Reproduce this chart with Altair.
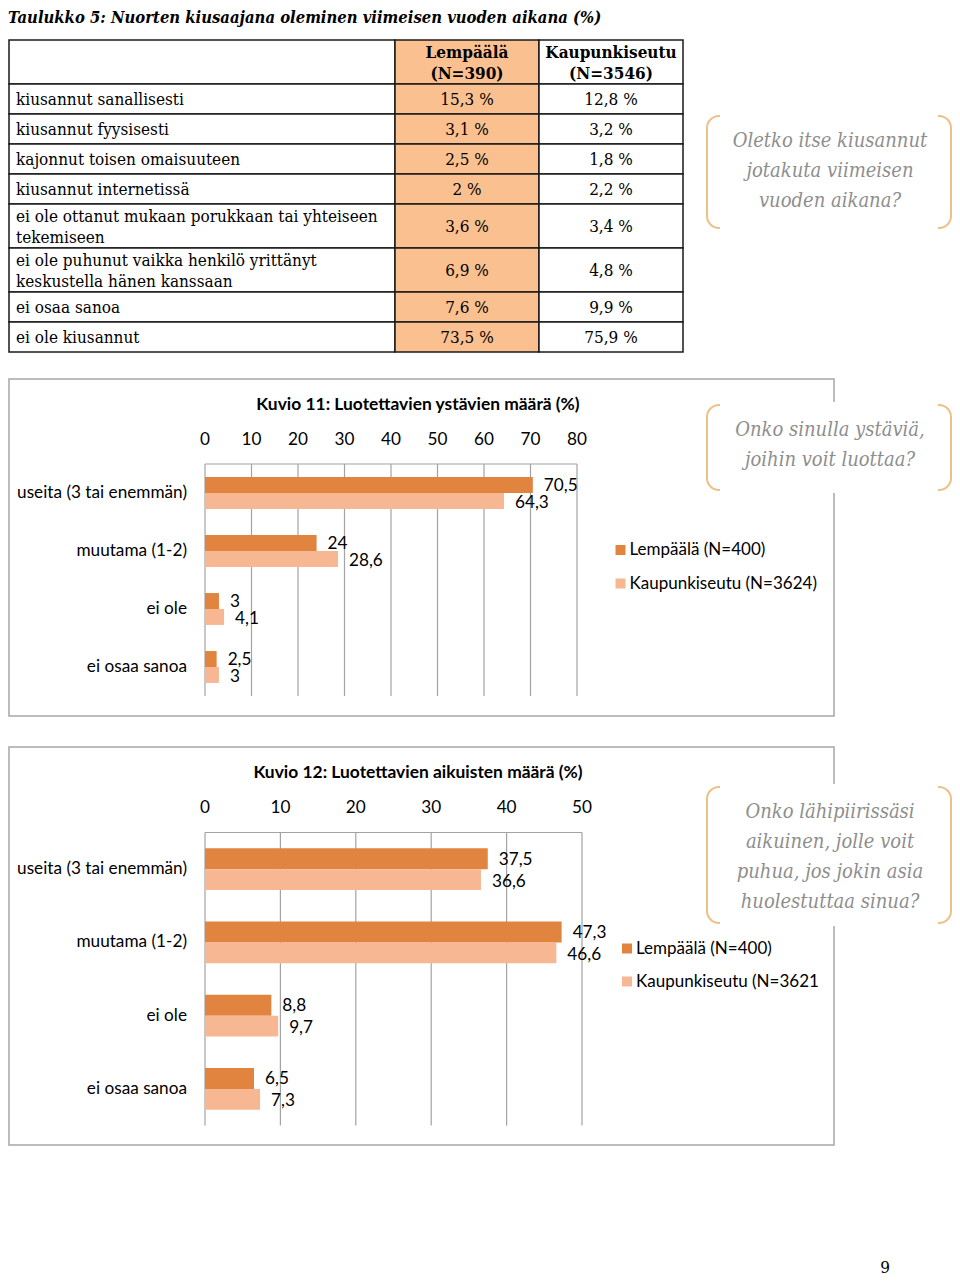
import altair as alt
import pandas as pd

# ---------------- data ----------------
title_text = "Taulukko 5: Nuorten kiusaajana oleminen viimeisen vuoden aikana (%)"

table_header = ["", "Lempäälä\n(N=390)", "Kaupunkiseutu\n(N=3546)"]
table_items = [
    "kiusannut sanallisesti",
    "kiusannut fyysisesti",
    "kajonnut toisen omaisuuteen",
    "kiusannut internetissä",
    "ei ole ottanut mukaan porukkaan tai yhteiseen\ntekemiseen",
    "ei ole puhunut vaikka henkilö yrittänyt\nkeskustella hänen kanssaan",
    "ei osaa sanoa",
    "ei ole kiusannut",
]
table_lempaala = [15.3, 3.1, 2.5, 2, 3.6, 6.9, 7.6, 73.5]
table_kaupunki = [12.8, 3.2, 1.8, 2.2, 3.4, 4.8, 9.9, 75.9]

callout1 = "Oletko itse kiusannut\njotakuta viimeisen\nvuoden aikana?"
callout2 = "Onko sinulla ystäviä,\njoihin voit luottaa?"
callout3 = "Onko lähipiirissäsi\naikuinen, jolle voit\npuhua, jos jokin asia\nhuolestuttaa sinua?"

categories = ["useita (3 tai enemmän)", "muutama (1-2)", "ei ole", "ei osaa sanoa"]

c1_title = "Kuvio 11: Luotettavien ystävien määrä (%)"
c1_series = ["Lempäälä (N=400)", "Kaupunkiseutu (N=3624)"]
c1_lempaala = [70.5, 24, 3, 2.5]
c1_kaupunki = [64.3, 28.6, 4.1, 3]
c1_ticks = [0, 10, 20, 30, 40, 50, 60, 70, 80]

c2_title = "Kuvio 12: Luotettavien aikuisten määrä (%)"
c2_series = ["Lempäälä (N=400)", "Kaupunkiseutu (N=3621"]
c2_lempaala = [37.5, 47.3, 8.8, 6.5]
c2_kaupunki = [36.6, 46.6, 9.7, 7.3]
c2_ticks = [0, 10, 20, 30, 40, 50]

page_number = "9"

# ---------------- layout / style ----------------
M = 8
W, H = 944, 1269


def P(v):
    return v - M


def fmt(v):
    return f"{v:g}".replace(".", ",")


SERIF = "DejaVu Serif Condensed, DejaVu Serif, serif"
SANS = "Lato, sans-serif"
DARK = "#E0843F"
LIGHT = "#F8B793"
TABLE_FILL = "#FAC08F"
BRACKET = "#EFBF88"
CALLOUT_TXT = "#8E8E8E"
FRAME = "#A6A6A6"
GRID = "#A3A3A3"
TBL_LH = 21
SANS_FS = 17.2

one = pd.DataFrame({"k": [0]})
layers = []

# title
layers.append(
    alt.Chart(one).mark_text(
        text=title_text, font=SERIF, fontSize=16.5, fontWeight="bold",
        fontStyle="italic", align="left", baseline="middle", color="black"
    ).encode(x=alt.value(0), y=alt.value(10))
)

# ---------------- table ----------------
edges = [0, 386, 530, 674]
rows = [table_header] + [
    [lab, fmt(a) + " %", fmt(b) + " %"]
    for lab, a, b in zip(table_items, table_lempaala, table_kaupunki)
]
recs = []
ycur = 0
for r, row in enumerate(rows):
    nl = max(t.count("\n") + 1 for t in row)
    h = 30 + 14 * (nl - 1)
    for c, t in enumerate(row):
        n_own = t.count("\n") + 1
        recs.append(dict(
            x0=edges[c], x1=edges[c + 1], y0=ycur, y1=ycur + h,
            yt=ycur + h / 2 - (n_own - 1) * TBL_LH / 2 + 1,
            xc=(edges[c] + edges[c + 1]) / 2,
            xl=edges[c] + 7, text=t, col=c, hdr=int(r == 0),
        ))
    ycur += h
TBL_H = ycur
tbl = pd.DataFrame(recs)
TX = alt.Scale(domain=[0, edges[-1]], range=[1, 1 + edges[-1]], nice=False, zero=False)
TY = alt.Scale(domain=[0, TBL_H], range=[P(40), P(40) + TBL_H], nice=False, zero=False)

layers.append(
    alt.Chart(tbl).mark_rect(stroke="#1a1a1a", strokeWidth=1.5).encode(
        x=alt.X("x0:Q", scale=TX, axis=None), x2="x1:Q",
        y=alt.Y("y0:Q", scale=TY, axis=None), y2="y1:Q",
        fill=alt.condition(alt.datum.col == 1, alt.value(TABLE_FILL), alt.value("white")),
    )
)
layers.append(
    alt.Chart(tbl).transform_filter((alt.datum.col == 0) & (alt.datum.hdr == 0)).mark_text(
        font=SERIF, fontSize=17, align="left", baseline="middle",
        lineBreak="\n", lineHeight=TBL_LH, color="black"
    ).encode(x=alt.X("xl:Q", scale=TX, axis=None), y=alt.Y("yt:Q", scale=TY, axis=None), text="text:N")
)
layers.append(
    alt.Chart(tbl).transform_filter((alt.datum.col > 0) & (alt.datum.hdr == 0)).mark_text(
        font=SERIF, fontSize=17, align="center", baseline="middle", color="black"
    ).encode(x=alt.X("xc:Q", scale=TX, axis=None), y=alt.Y("yt:Q", scale=TY, axis=None), text="text:N")
)
layers.append(
    alt.Chart(tbl).transform_filter((alt.datum.col > 0) & (alt.datum.hdr == 1)).mark_text(
        font=SERIF, fontSize=17, fontWeight="bold", align="center", baseline="middle",
        lineBreak="\n", lineHeight=TBL_LH, color="black"
    ).encode(x=alt.X("xc:Q", scale=TX, axis=None), y=alt.Y("yt:Q", scale=TY, axis=None), text="text:N")
)


# ---------------- bar charts ----------------
def bar_chart(series, v1, v2, ticks, frame_y, x_range, y_range, pad, title, title_y,
              tick_y, leg_x, leg_y):
    out = []
    out.append(
        alt.Chart(one).mark_rect(fill="white", stroke=FRAME, strokeWidth=1.5).encode(
            x=alt.value(1), x2=alt.value(P(834)),
            y=alt.value(frame_y[0]), y2=alt.value(frame_y[1]),
        )
    )
    df = pd.DataFrame(
        [dict(cat=c, series=series[0], s=0, value=a, label=fmt(a)) for c, a in zip(categories, v1)]
        + [dict(cat=c, series=series[1], s=1, value=b, label=fmt(b)) for c, b in zip(categories, v2)]
    )
    xs = alt.Scale(domain=[ticks[0], ticks[-1]], range=x_range, nice=False, zero=False)
    ys = alt.Scale(domain=categories, range=y_range, paddingInner=pad, paddingOuter=pad / 2)
    yo = alt.Scale(domain=series, paddingInner=0, paddingOuter=0)
    cs = alt.Scale(domain=series, range=[DARK, LIGHT])
    step = (y_range[1] - y_range[0]) / len(categories)
    bw = step * (1 - pad)
    tdf = pd.DataFrame({"t": ticks, "lab": [str(t) for t in ticks]})
    out.append(
        alt.Chart(tdf).mark_rule(color=GRID, strokeWidth=1.2).encode(
            x=alt.X("t:Q", scale=xs, axis=None),
            y=alt.value(y_range[0]), y2=alt.value(y_range[1]),
        )
    )
    out.append(
        alt.Chart(pd.DataFrame({"a": [ticks[0]], "b": [ticks[-1]]})).mark_rule(
            color=GRID, strokeWidth=1.2
        ).encode(x=alt.X("a:Q", scale=xs, axis=None), x2="b:Q", y=alt.value(y_range[0]))
    )
    out.append(
        alt.Chart(tdf).mark_text(font=SANS, fontSize=SANS_FS, baseline="middle", color="black").encode(
            x=alt.X("t:Q", scale=xs, axis=None), y=alt.value(tick_y), text="lab:N"
        )
    )
    out.append(
        alt.Chart(df).mark_bar().encode(
            x=alt.X("value:Q", scale=xs, axis=None),
            y=alt.Y("cat:N", scale=ys, axis=None),
            yOffset=alt.YOffset("series:N", scale=yo),
            color=alt.Color("series:N", scale=cs, legend=None),
        )
    )
    n = len(series)
    for i in range(n):
        dy = (i + 0.5 - n / 2) * (bw / n + 1) + 1.5
        out.append(
            alt.Chart(df).transform_filter(alt.datum.s == i).mark_text(
                font=SANS, fontSize=SANS_FS, align="left", baseline="middle",
                dx=11, dy=dy, color="black"
            ).encode(
                x=alt.X("value:Q", scale=xs, axis=None),
                y=alt.Y("cat:N", scale=ys, axis=None),
                text="label:N",
            )
        )
    out.append(
        alt.Chart(pd.DataFrame({"cat": categories})).mark_text(
            font=SANS, fontSize=SANS_FS, align="right", baseline="middle", color="black"
        ).encode(x=alt.value(P(187)), y=alt.Y("cat:N", scale=ys, axis=None), text="cat:N")
    )
    out.append(
        alt.Chart(one).mark_text(
            text=title, font=SANS, fontSize=17.4, fontWeight="bold", align="center",
            baseline="middle", color="black"
        ).encode(x=alt.value(P(418)), y=alt.value(title_y))
    )
    ls = alt.Scale(type="point", domain=series, range=leg_y, padding=0)
    ldf = pd.DataFrame({"series": series})
    out.append(
        alt.Chart(ldf).mark_square(size=100, opacity=1, strokeWidth=0).encode(
            x=alt.value(leg_x), y=alt.Y("series:N", scale=ls, axis=None),
            color=alt.Color("series:N", scale=cs, legend=None),
        )
    )
    out.append(
        alt.Chart(ldf).mark_text(font=SANS, fontSize=17, align="left", baseline="middle",
                                 color="black").encode(
            x=alt.value(leg_x + 9), y=alt.Y("series:N", scale=ls, axis=None), text="series:N"
        )
    )
    return out


layers += bar_chart(
    c1_series, c1_lempaala, c1_kaupunki, c1_ticks,
    frame_y=[P(379), P(716)], x_range=[P(205), P(577)], y_range=[P(464), P(696)],
    pad=0.45, title=c1_title, title_y=P(405), tick_y=P(440),
    leg_x=P(620.5), leg_y=[P(550), P(583.5)],
)
layers += bar_chart(
    c2_series, c2_lempaala, c2_kaupunki, c2_ticks,
    frame_y=[P(747), P(1145)], x_range=[P(205), P(582)], y_range=[P(832.5), P(1125.5)],
    pad=0.43, title=c2_title, title_y=P(773), tick_y=P(808),
    leg_x=P(627), leg_y=[P(948.5), P(981.5)],
)


# ---------------- callouts ----------------
CALL_LH = 30


def callout(text, top, bottom, cy):
    out = []
    x0, x1 = P(707), P(951)
    nlines = text.count("\n") + 1
    out.append(
        alt.Chart(one).mark_rect(fill="white", stroke=BRACKET, strokeWidth=2, cornerRadius=12).encode(
            x=alt.value(x0), x2=alt.value(x1), y=alt.value(top), y2=alt.value(bottom)
        )
    )
    for yy in (top, bottom):
        out.append(
            alt.Chart(one).mark_rect(fill="white", strokeWidth=0).encode(
                x=alt.value(x0 + 13), x2=alt.value(x1 - 13),
                y=alt.value(yy - 3), y2=alt.value(yy + 3)
            )
        )
    out.append(
        alt.Chart(one).mark_text(
            text=text, font=SERIF, fontSize=20, fontStyle="italic", align="center",
            baseline="middle", lineBreak="\n", lineHeight=CALL_LH, color=CALLOUT_TXT
        ).encode(x=alt.value(P(830)), y=alt.value(cy - (nlines - 1) * CALL_LH / 2))
    )
    return out


layers += callout(callout1, P(116), P(228), P(171))
layers += callout(callout2, P(405), P(490), P(445))
layers += callout(callout3, P(787), P(923), P(857))

layers.append(
    alt.Chart(one).mark_text(
        text=page_number, font=SERIF, fontSize=17, align="center", baseline="middle", color="black"
    ).encode(x=alt.value(P(885)), y=alt.value(H - 9))
)

chart = alt.layer(*layers).resolve_scale(
    x="independent", y="independent", color="independent", yOffset="independent"
).properties(
    width=W, height=H, autosize=alt.AutoSizeParams(type="none"), padding=0
).configure_view(stroke=None)

chart.save("out.html", embed_options={"renderer": "svg", "actions": False})
